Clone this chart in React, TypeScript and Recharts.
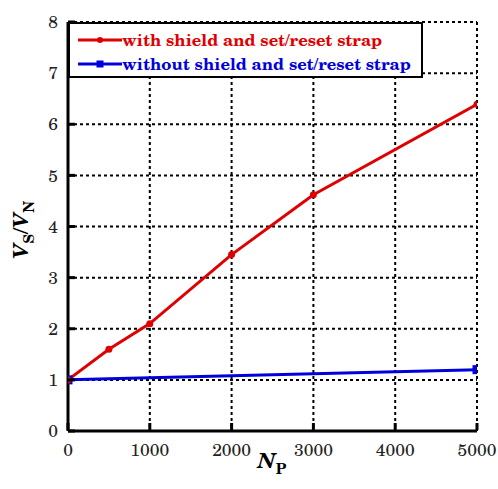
import React from 'react';
import { LineChart, Line, XAxis, YAxis, CartesianGrid, Legend } from 'recharts';

const redX = [0, 500, 1000, 2000, 3000, 5000];
const redY = [1.0, 1.6, 2.1, 3.45, 4.62, 6.39];
const blueX = [0, 5000];
const blueY = [1.0, 1.2];
const xTicks = [0, 1000, 2000, 3000, 4000, 5000];
const yTicks = [0, 1, 2, 3, 4, 5, 6, 7, 8];
const redName = 'with shield and set/reset strap';
const blueName = 'without shield and set/reset strap';

const RED = '#e00000';
const BLUE = '#0000dd';

const redData = redX.map((x, i) => ({ x, y: redY[i] }));
const blueData = blueX.map((x, i) => ({ x, y: blueY[i] }));

const FONT = 'TeX Gyre Schola, serif';
const X_MARGIN = 14;
const Y_MARGIN = 10;

const BottomTick = (props: any) => {
  const { x, y, payload } = props;
  return (
    <g>
      <line x1={x} x2={x} y1={y - X_MARGIN - 1} y2={y - X_MARGIN - 8} stroke="#000" strokeWidth={3} />
      <text x={x} y={y} dy="0.6em" textAnchor="middle" style={{ fontFamily: FONT }} fontSize={17.5} fill="#222">
        {payload.value}
      </text>
    </g>
  );
};

const LeftTick = (props: any) => {
  const { x, y, payload } = props;
  return (
    <g>
      <line x1={x + Y_MARGIN} x2={x + Y_MARGIN + 7} y1={y} y2={y} stroke="#000" strokeWidth={3} />
      <text x={x} y={y} dy="0.35em" textAnchor="end" style={{ fontFamily: FONT }} fontSize={17.5} fill="#222">
        {payload.value}
      </text>
    </g>
  );
};

const BlueSquare = (props: any) => {
  const { cx, cy } = props;
  return <rect x={cx - 4.5} y={cy - 4.5} width={9} height={9} fill={BLUE} />;
};

const YLabel = () => (
  <text
    transform="translate(28,230) rotate(-90)"
    x={0}
    y={0}
    textAnchor="middle"
    style={{ fontFamily: FONT }}
    fontWeight="bold"
    fontStyle="italic"
    fontSize={21}
    fill="#000"
  >
    V<tspan fontSize={14} fontStyle="normal" dy={6}>S</tspan>
    <tspan dy={-6}>/V</tspan>
    <tspan fontSize={14} fontStyle="normal" dy={6}>N</tspan>
  </text>
);

const XLabel = () => (
  <text
    x={272}
    y={468}
    textAnchor="middle"
    style={{ fontFamily: FONT }}
    fontWeight="bold"
    fontStyle="italic"
    fontSize={21}
    fill="#000"
  >
    N<tspan fontSize={14} fontStyle="normal" dy={6}>P</tspan>
  </text>
);

const LegendBox = () => (
  <div
    style={{
      width: 355,
      height: 56,
      boxSizing: 'border-box',
      border: '2px solid #000',
      background: '#fff',
      fontFamily: FONT,
      fontWeight: 'bold',
      fontSize: 16.6,
      position: 'relative',
    }}
  >
    {[
      { name: redName, color: RED, top: 16, square: false },
      { name: blueName, color: BLUE, top: 40, square: true },
    ].map((it) => (
      <div key={it.name} style={{ position: 'absolute', left: 0, top: it.top - 11, height: 22, width: 353 }}>
        <svg width={54} height={22} style={{ position: 'absolute', left: 8, top: 0 }}>
          <line x1={0} x2={44} y1={11} y2={11} stroke={it.color} strokeWidth={3} />
          {it.square ? (
            <rect x={18.5} y={7.5} width={7} height={7} fill={it.color} />
          ) : (
            <circle cx={22} cy={11} r={3} fill={it.color} />
          )}
        </svg>
        <span
          style={{
            position: 'absolute',
            left: 52,
            top: 0,
            lineHeight: '22px',
            color: it.color,
            whiteSpace: 'nowrap',
          }}
        >
          {it.name}
        </span>
      </div>
    ))}
  </div>
);

export default function App() {
  return (
    <div style={{ position: 'absolute', left: 0, top: 0, width: 498, height: 489, background: '#fff' }}>
      <LineChart width={498} height={489} margin={{ top: 22, right: 21, bottom: 28, left: 38 }}>
        <CartesianGrid stroke="#000" strokeWidth={2} strokeDasharray="3 3" />
        <XAxis
          xAxisId={0}
          type="number"
          dataKey="x"
          domain={[0, 5000]}
          ticks={xTicks}
          height={30}
          tickSize={0}
          tickMargin={X_MARGIN}
          tickLine={false}
          tick={<BottomTick />}
          axisLine={{ stroke: '#000', strokeWidth: 3 }}
          allowDataOverflow
          label={<XLabel />}
        />
        <XAxis
          xAxisId="top"
          orientation="top"
          type="number"
          domain={[0, 5000]}
          ticks={xTicks}
          height={0}
          mirror
          tickSize={7}
          tickFormatter={() => ''}
          tickLine={{ stroke: '#000', strokeWidth: 3 }}
          axisLine={{ stroke: '#000', strokeWidth: 3 }}
          allowDataOverflow
        />
        <YAxis
          yAxisId={0}
          type="number"
          domain={[0, 8]}
          ticks={yTicks}
          width={30}
          tickSize={0}
          tickMargin={Y_MARGIN}
          tickLine={false}
          tick={<LeftTick />}
          axisLine={{ stroke: '#000', strokeWidth: 3 }}
          allowDataOverflow
          label={<YLabel />}
        />
        <YAxis
          yAxisId="right"
          orientation="right"
          type="number"
          domain={[0, 8]}
          ticks={yTicks}
          width={0}
          mirror
          tickSize={7}
          tickFormatter={() => ''}
          tickLine={{ stroke: '#000', strokeWidth: 3 }}
          axisLine={{ stroke: '#000', strokeWidth: 3 }}
          allowDataOverflow
        />
        <Line
          data={blueData}
          dataKey="y"
          name={blueName}
          stroke={BLUE}
          strokeWidth={3}
          dot={<BlueSquare />}
          activeDot={false}
          isAnimationActive={false}
        />
        <Line
          data={redData}
          dataKey="y"
          name={redName}
          stroke={RED}
          strokeWidth={3}
          dot={{ r: 3.5, fill: RED, stroke: RED, strokeWidth: 0 }}
          activeDot={false}
          isAnimationActive={false}
        />
        <Legend
          layout="horizontal"
          verticalAlign="middle"
          align="center"
          content={<LegendBox />}
          wrapperStyle={{ position: 'absolute', left: 68, top: 22, width: 355, height: 56 }}
        />
      </LineChart>
    </div>
  );
}
